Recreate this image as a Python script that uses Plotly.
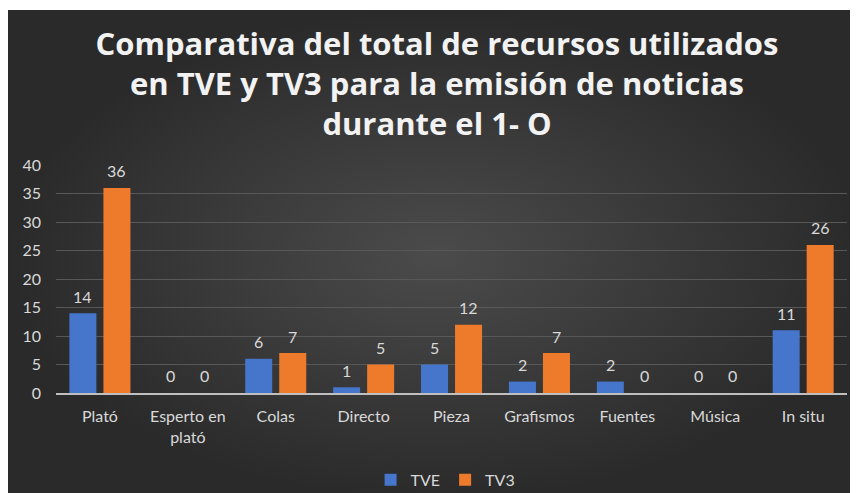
import plotly.graph_objects as go

# datos del gráfico
categorias = ["Plató", "Esperto en<br>plató", "Colas", "Directo", "Pieza",
              "Grafismos", "Fuentes", "Música", "In situ"]
tve = [14, 0, 6, 1, 5, 2, 2, 0, 11]
tv3 = [36, 0, 7, 5, 12, 7, 0, 0, 26]

titulo = ("Comparativa del total de recursos utilizados<br>"
          "en TVE y TV3 para la emisión de noticias<br>durante el 1- O")

FONT = "Lato"
TXT = "#d9d9d9"

fig = go.Figure()

# fondo con degradado (decorativo), en el primer subplot para quedar debajo
fig.add_trace(go.Scatter(
    x=[0, 1, 1, 0, 0], y=[0, 0, 1, 1, 0], xaxis="x", yaxis="y",
    mode="lines", line=dict(width=0), fill="toself",
    fillgradient=dict(type="radial",
                      colorscale=[[0, "#4b4b4b"], [1, "#2a2a2a"]]),
    hoverinfo="skip", showlegend=False))

fig.add_trace(go.Bar(name="TVE", x=categorias, y=tve, xaxis="x2", yaxis="y2",
                     marker=dict(color="#4675cc", line=dict(width=0))))
fig.add_trace(go.Bar(name="TV3", x=categorias, y=tv3, xaxis="x2", yaxis="y2",
                     marker=dict(color="#ee7b2c", line=dict(width=0))))

# etiquetas de valor sobre cada barra
for serie, dx in ((tve, -17), (tv3, 17)):
    for cat, val in zip(categorias, serie):
        fig.add_annotation(x=cat, y=val, xref="x2", yref="y2", text=str(val),
                           showarrow=False, xshift=dx, yshift=17,
                           font=dict(family=FONT, size=16, color=TXT))

fig.update_layout(
    width=858, height=493,
    margin=dict(l=0, r=0, t=2, b=0, autoexpand=False),
    paper_bgcolor="white", plot_bgcolor="rgba(0,0,0,0)",
    font=dict(family=FONT, color=TXT, size=15),
    title=dict(text=titulo, x=0.5, y=0.905, xanchor="center", yanchor="middle",
               font=dict(family="Open Sans", size=31, color="#f2f2f2",
                         weight="bold")),
    barmode="group", bargap=0.226, bargroupgap=0.206,
    xaxis=dict(domain=[0, 1], range=[0, 1], visible=False, fixedrange=True),
    yaxis=dict(domain=[0, 1], range=[0, 1], visible=False, fixedrange=True),
    xaxis2=dict(domain=[0.0559, 0.978], anchor="y2", showgrid=False,
                showline=True, linecolor="#bfbfbf", linewidth=2, ticks="",
                ticklabelstandoff=8, automargin=False,
                tickfont=dict(size=16, color=TXT)),
    yaxis2=dict(domain=[0.220, 0.684], anchor="x2", range=[0, 40], dtick=5,
                gridcolor="#585858", gridwidth=1, zeroline=False,
                showline=False, ticks="", ticklabelstandoff=14, automargin=False,
                tickfont=dict(size=16, color=TXT)),
    legend=dict(orientation="h", x=0.51, xanchor="center", y=0.043,
                yanchor="middle", font=dict(size=16, color=TXT),
                bgcolor="rgba(0,0,0,0)", itemwidth=30, traceorder="normal"),
)

fig.write_html("out.html")
